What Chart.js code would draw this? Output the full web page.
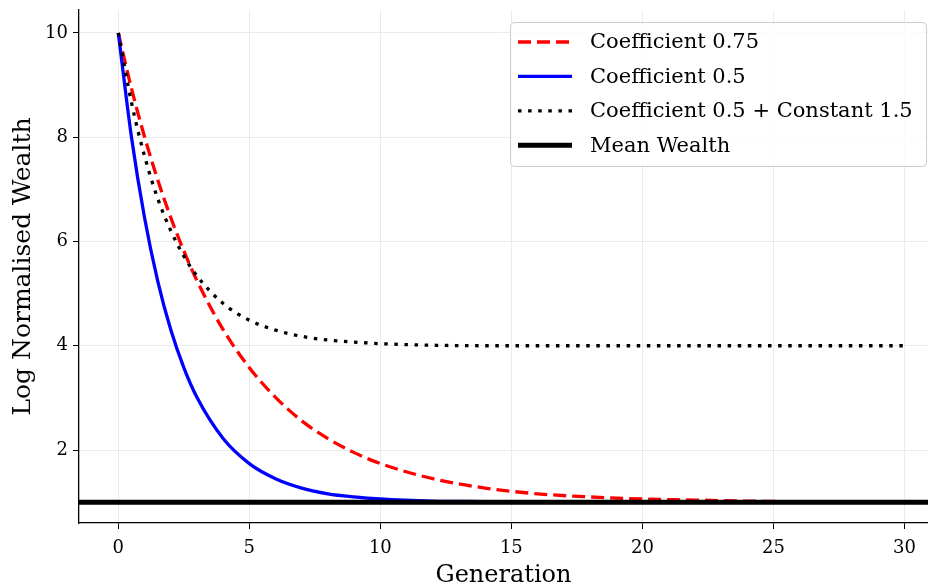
<!DOCTYPE html>
<html>
<head>
<meta charset="utf-8">
<script src="https://cdn.jsdelivr.net/npm/chart.js@4"></script>
<style>
  html, body { margin: 0; padding: 0; background: #fff; }
  #wrap { width: 928px; height: 584px; }
</style>
</head>
<body>
<div id="wrap"><canvas id="chart" width="928" height="584"></canvas></div>
<script>
// generations sampled along the curves
const generation = [0, 0.5, 1, 1.5, 2, 2.5, 3, 4, 5, 6, 7, 8, 9, 10, 12, 14, 16, 18, 20, 22, 24, 26, 28, 30];
// log normalised wealth
const coef075 = [10, 8.94, 8.01, 7.19, 6.46, 5.82, 5.25, 4.31, 3.58, 3.01, 2.56, 2.22, 1.95, 1.74, 1.45, 1.27, 1.16, 1.10, 1.06, 1.04, 1.02, 1.01, 1.01, 1.00];
const coef05 = [10, 8.01, 6.46, 5.25, 4.31, 3.58, 3.01, 2.22, 1.74, 1.45, 1.27, 1.16, 1.10, 1.06, 1.02, 1.01, 1.00, 1.00, 1.00, 1.00, 1.00, 1.00, 1.00, 1.00];
const coef05const15 = [10, 8.67, 7.64, 6.83, 6.21, 5.72, 5.34, 4.81, 4.49, 4.30, 4.18, 4.11, 4.07, 4.04, 4.01, 4.00, 4.00, 4.00, 4.00, 4.00, 4.00, 4.00, 4.00, 4.00];
const meanWealth = 1;
const xRange = [-1.5, 30.9];
const yRange = [0.6, 10.44];
const xTicks = [0, 5, 10, 15, 20, 25, 30];
const yTicks = [2, 4, 6, 8, 10];
const labels = ['Coefficient 0.75', 'Coefficient 0.5', 'Coefficient 0.5 + Constant 1.5', 'Mean Wealth'];

const FONT = '"DejaVu Serif", "Liberation Serif", serif';

const toPts = (ys) => generation.map((g, i) => ({x: g, y: ys[i]}));

// legend box drawn inside the plot, like matplotlib
const boxLegend = {
    id: 'boxLegend',
    afterDraw(chart) {
        const ctx = chart.ctx;
        const x0 = 510.5, y0 = 22.5, w = 416, h = 144, r = 4;
        ctx.save();
        ctx.beginPath();
        ctx.roundRect(x0, y0, w, h, r);
        ctx.fillStyle = 'rgba(255,255,255,0.8)';
        ctx.fill();
        ctx.strokeStyle = '#cccccc';
        ctx.lineWidth = 1;
        ctx.stroke();
        chart.data.datasets.forEach((ds, i) => {
            const y = 42 + i * 34.4;
            ctx.beginPath();
            ctx.setLineDash(ds.borderDash || []);
            ctx.strokeStyle = ds.borderColor;
            ctx.lineWidth = ds.borderWidth;
            ctx.lineCap = 'butt';
            ctx.moveTo(518, y);
            ctx.lineTo(572, y);
            ctx.stroke();
            ctx.setLineDash([]);
            ctx.fillStyle = '#000';
            ctx.font = '21px ' + FONT;
            ctx.textBaseline = 'middle';
            ctx.fillText(ds.label, 590, y + 1);
        });
        ctx.restore();
    }
};

new Chart(document.getElementById('chart').getContext('2d'), {
    type: 'line',
    data: {
        datasets: [
            {
                label: labels[0],
                data: toPts(coef075),
                borderColor: '#ff0000',
                borderWidth: 3.3,
                borderDash: [13, 6],
                order: 3
            },
            {
                label: labels[1],
                data: toPts(coef05),
                borderColor: '#0000ff',
                borderWidth: 3.3,
                order: 2
            },
            {
                label: labels[2],
                data: toPts(coef05const15),
                borderColor: '#000000',
                borderWidth: 3.3,
                borderDash: [3.5, 6.6],
                order: 1
            },
            {
                label: labels[3],
                data: [{x: xRange[0], y: meanWealth}, {x: xRange[1], y: meanWealth}],
                borderColor: '#000000',
                borderWidth: 5,
                order: 0
            }
        ]
    },
    options: {
        responsive: false,
        animation: false,
        devicePixelRatio: 1,
        layout: {padding: {top: 10, right: 0, left: 0, bottom: -6}},
        elements: {
            point: {radius: 0},
            line: {cubicInterpolationMode: 'monotone', fill: false}
        },
        plugins: {
            legend: {display: false},
            tooltip: {enabled: false}
        },
        scales: {
            x: {
                type: 'linear',
                min: xRange[0],
                max: xRange[1],
                afterBuildTicks: (s) => { s.ticks = xTicks.map(v => ({value: v})); },
                afterFit: (s) => { s.height = 67; s.paddingLeft = 0; s.paddingRight = 0; },
                grid: {color: '#ebebeb', lineWidth: 1, tickColor: '#000', tickLength: 6, tickWidth: 1},
                border: {color: '#000', width: 1.3},
                ticks: {color: '#000', font: {family: FONT, size: 18}, padding: 9, maxRotation: 0},
                title: {display: true, text: 'Generation', color: '#000', font: {family: FONT, size: 24}, padding: {top: 0, bottom: 0}}
            },
            y: {
                min: yRange[0],
                max: yRange[1],
                afterBuildTicks: (s) => { s.ticks = yTicks.map(v => ({value: v})); },
                afterFit: (s) => { s.width = 79; s.paddingTop = 0; s.paddingBottom = 0; },
                grid: {color: '#ebebeb', lineWidth: 1, tickColor: '#000', tickLength: 6, tickWidth: 1},
                border: {color: '#000', width: 1.3},
                ticks: {color: '#000', font: {family: FONT, size: 18}, padding: 5},
                title: {display: true, text: 'Log Normalised Wealth', color: '#000', font: {family: FONT, size: 25}, padding: {top: 8, bottom: 0}}
            }
        }
    },
    plugins: [boxLegend]
});
</script>
</body>
</html>
